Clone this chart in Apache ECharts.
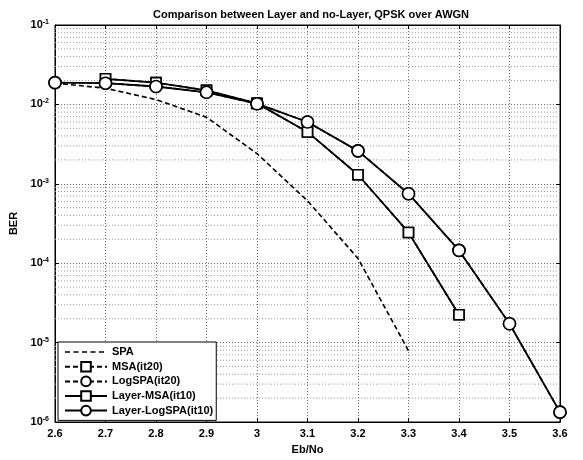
<!DOCTYPE html>
<html>
<head>
<meta charset="utf-8">
<script src="https://cdn.jsdelivr.net/npm/echarts@6/dist/echarts.min.js"></script>
<style>html,body{margin:0;padding:0;background:#fff}#c{width:583px;height:460px}</style>
</head>
<body>
<div id="c"></div>
<script>
const titleText = 'Comparison between Layer and no-Layer, QPSK over AWGN';
const ebno = [2.6, 2.7, 2.8, 2.9, 3.0, 3.1, 3.2, 3.3, 3.4, 3.5, 3.6];
const xTickLabels = ['2.6','2.7','2.8','2.9','3','3.1','3.2','3.3','3.4','3.5','3.6'];
const yTickExponents = [-6, -5, -4, -3, -2, -1];
const seriesNames = ['SPA', 'MSA(it20)', 'LogSPA(it20)', 'Layer-MSA(it10)', 'Layer-LogSPA(it10)'];
const spa         = [1.85e-2, 1.6e-2, 1.15e-2, 6.9e-3, 2.4e-3, 6.1e-4, 1.15e-4, 7.9e-6, null, null, null];
const msaIt20     = [null, 2.1e-2, 1.88e-2, 1.5e-2, 1.03e-2, 4.5e-3, 1.3e-3, 2.44e-4, 2.24e-5, null, null];
const logspaIt20  = [1.88e-2, 1.85e-2, 1.68e-2, 1.42e-2, 1.02e-2, 6.0e-3, 2.6e-3, 7.5e-4, 1.45e-4, 1.73e-5, 1.33e-6];
const layerMsa    = [null, 2.1e-2, 1.88e-2, 1.5e-2, 1.03e-2, 4.5e-3, 1.3e-3, 2.44e-4, 2.24e-5, null, null];
const layerLogspa = [1.88e-2, 1.85e-2, 1.68e-2, 1.42e-2, 1.02e-2, 6.0e-3, 2.6e-3, 7.5e-4, 1.45e-4, 1.73e-5, 1.33e-6];

function pairs(arr) {
  const out = [];
  arr.forEach((v, i) => { if (v !== null) out.push([ebno[i], v]); });
  return out;
}

// minor log grid lines (2..9 x 10^k), drawn as one gapped line series through the axes
const minorGrid = [];
for (let k = yTickExponents[0]; k < yTickExponents[yTickExponents.length - 1]; k++) {
  for (let m = 2; m <= 9; m++) {
    const v = m * Math.pow(10, k);
    minorGrid.push([ebno[0], v], [ebno[ebno.length - 1], v], '-');
  }
}

const FONT = 'Liberation Sans';
const chart = echarts.init(document.getElementById('c'), null, {renderer: 'canvas'});

function mk(name, data, dashed, symbol, z) {
  return {
    name: name, type: 'line', data: pairs(data), z: z,
    symbol: symbol, symbolSize: symbol === 'rect' ? 10 : 12,
    showSymbol: symbol !== 'none',
    itemStyle: {color: '#fff', borderColor: '#000', borderWidth: 1.6},
    lineStyle: {color: '#000', width: dashed ? 1.6 : 1.8, type: dashed ? [5, 3] : 'solid'},
    color: '#000',
    emphasis: {disabled: true}, animation: false
  };
}

const dashIcon = 'path://M0,0h0.01v0.01h-0.01z M0,5.3h5v1.4h-5z M8.5,5.3h5v1.4h-5z M17,5.3h5v1.4h-5z M25.5,5.3h5v1.4h-5z M34,5.3h5v1.4h-5z M41.99,11.99h0.01v0.01h-0.01z';

const axisLabelY = {
  fontFamily: FONT, color: '#000', fontSize: 11, fontWeight: 'bold', margin: 6,
  formatter: function (v) {
    const e = Math.round(Math.log10(v));
    return '{b|10}{s|' + e + '}';
  },
  rich: {
    b: {fontFamily: FONT, fontSize: 11, fontWeight: 'bold', color: '#000'},
    s: {fontFamily: FONT, fontSize: 7, fontWeight: 'bold', color: '#000', verticalAlign: 'top', padding: [0, 0, 6, 0]}
  }
};

const option = {
  animation: false,
  backgroundColor: '#fff',
  title: {
    text: titleText, left: 306, top: 4, textAlign: 'center',
    textStyle: {fontFamily: FONT, fontSize: 11, fontWeight: 'bold', color: '#000'}
  },
  grid: {left: 53, right: 23, top: 25, bottom: 36, show: true, borderColor: '#000', borderWidth: 1, backgroundColor: 'transparent'},
  legend: {
    orient: 'vertical', left: 58, top: 342,
    data: [{name: seriesNames[0], icon: dashIcon, itemStyle: {color: '#000', borderWidth: 0}},
           seriesNames[1], seriesNames[2], seriesNames[3], seriesNames[4]],
    backgroundColor: '#fff', borderColor: '#000', borderWidth: 1,
    padding: [4, 3, 4, 6], itemGap: 3, itemWidth: 42, itemHeight: 12,
    textStyle: {fontFamily: FONT, fontSize: 11, fontWeight: 'bold', color: '#000'}
  },
  xAxis: [{
    type: 'value', min: 2.6, max: 3.6, interval: 0.1,
    name: 'Eb/No', nameLocation: 'middle', nameGap: 22,
    nameTextStyle: {fontFamily: FONT, fontSize: 11, fontWeight: 'bold', color: '#000'},
    axisLine: {show: true, lineStyle: {color: '#000', width: 1}},
    axisTick: {inside: true, length: 4, lineStyle: {color: '#000'}},
    axisLabel: {fontFamily: FONT, fontSize: 11, fontWeight: 'bold', color: '#000', margin: 6,
      formatter: function (v) { const i = Math.round((v - 2.6) * 10); return xTickLabels[i] !== undefined ? xTickLabels[i] : ''; }},
    splitLine: {show: true, lineStyle: {color: '#666', type: [1, 2], width: 1}}
  }, {
    type: 'value', min: 2.6, max: 3.6, interval: 0.1, position: 'top',
    axisLine: {show: true, lineStyle: {color: '#000'}},
    axisTick: {inside: true, length: 4, lineStyle: {color: '#000'}},
    axisLabel: {show: false}, splitLine: {show: false}
  }],
  yAxis: [{
    type: 'log', logBase: 10, min: 1e-6, max: 1e-1,
    name: 'BER', nameLocation: 'middle', nameGap: 36, nameRotate: 90,
    nameTextStyle: {fontFamily: FONT, fontSize: 11, fontWeight: 'bold', color: '#000'},
    axisLine: {show: true, lineStyle: {color: '#000', width: 1}},
    axisTick: {inside: true, length: 4, lineStyle: {color: '#000'}},
    axisLabel: axisLabelY,
    splitLine: {show: true, lineStyle: {color: '#666', type: [1, 2], width: 1}}
  }, {
    type: 'log', logBase: 10, min: 1e-6, max: 1e-1, position: 'right',
    axisLine: {show: true, lineStyle: {color: '#000'}},
    axisTick: {inside: true, length: 4, lineStyle: {color: '#000'}},
    axisLabel: {show: false}, splitLine: {show: false}
  }],
  series: [
    {
      name: 'minorgrid', type: 'line', data: minorGrid, silent: true, z: 1,
      symbol: 'none', showSymbol: false, connectNulls: false,
      lineStyle: {color: '#999', type: [1, 2], width: 1},
      emphasis: {disabled: true}, tooltip: {show: false}
    },
    mk(seriesNames[0], spa, true, 'none', 3),
    mk(seriesNames[1], msaIt20, true, 'rect', 3),
    mk(seriesNames[2], logspaIt20, true, 'circle', 3),
    mk(seriesNames[3], layerMsa, false, 'rect', 4),
    mk(seriesNames[4], layerLogspa, false, 'circle', 4)
  ]
};
chart.setOption(option);
</script>
</body>
</html>
